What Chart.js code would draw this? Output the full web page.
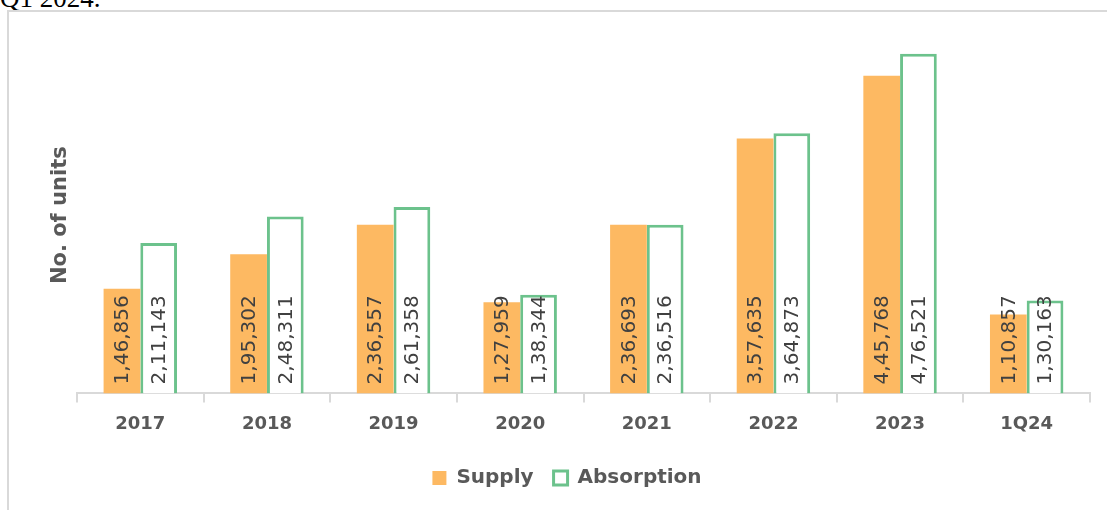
<!DOCTYPE html>
<html>
<head>
<meta charset="utf-8">
<script src="https://cdn.jsdelivr.net/npm/chart.js@4"></script>
<style>
  body { margin: 0; background: #fff; overflow: hidden; }
  .caption { position: absolute; left: 0; top: -15px; font: 27px "Liberation Serif", serif; line-height: 1; color: #000; white-space: nowrap; }
  .frame { position: absolute; left: 7px; top: 10px; width: 1200px; height: 600px; border: 2px solid #d9d9d9; box-sizing: border-box; }
  .wrap { position: absolute; left: 0; top: 0; width: 1107px; height: 510px; }
</style>
</head>
<body>
<div class="caption">Q1 2024.</div>
<div class="frame"></div>
<div class="wrap"><canvas id="grafico" width="1107" height="510"></canvas></div>
<script>
const years = ['2017', '2018', '2019', '2020', '2021', '2022', '2023', '1Q24']
const supply = [146856, 195302, 236557, 127959, 236693, 357635, 445768, 110857]
const absorption = [211143, 248311, 261358, 138344, 236516, 364873, 476521, 130163]

// indian style grouping: 1,46,856
function fmt(n) {
  let s = String(n)
  if (s.length <= 3) return s
  let last = s.slice(-3)
  let rest = s.slice(0, -3)
  rest = rest.replace(/\B(?=(\d{2})+(?!\d))/g, ',')
  return rest + ',' + last
}

const barLabels = {
  id: 'barLabels',
  afterDatasetsDraw(chart) {
    const ctx = chart.ctx
    ctx.save()
    ctx.font = '20px "DejaVu Sans"'
    ctx.fillStyle = '#404040'
    ctx.textAlign = 'left'
    ctx.textBaseline = 'middle'
    chart.data.datasets.forEach((ds, i) => {
      chart.getDatasetMeta(i).data.forEach((bar, j) => {
        ctx.save()
        ctx.translate(bar.x, bar.base - 9)
        ctx.rotate(-Math.PI / 2)
        ctx.fillText(fmt(ds.data[j]), 0, 1)
        ctx.restore()
      })
    })
    ctx.restore()
  }
}

const grafico = document.getElementById('grafico').getContext('2d')
const meuGrafico = new Chart(grafico, {
  type: 'bar',
  data: {
    labels: years,
    datasets: [{
      label: 'Supply',
      data: supply,
      backgroundColor: '#fdb962',
      borderColor: '#fdb962',
      borderWidth: 0
    }, {
      label: 'Absorption',
      data: absorption,
      backgroundColor: '#ffffff',
      borderColor: '#6cc28c',
      borderWidth: 3
    }]
  },
  options: {
    responsive: false,
    animation: false,
    categoryPercentage: 0.58,
    barPercentage: 1,
    layout: { padding: { left: 44, right: 17, top: 37, bottom: 12 } },
    plugins: {
      tooltip: { enabled: false },
      legend: {
        position: 'bottom',
        labels: {
          boxWidth: 14,
          boxHeight: 14,
          padding: 20,
          color: '#595959',
          font: { family: 'DejaVu Sans', size: 20, weight: 'bold' }
        }
      }
    },
    scales: {
      x: {
        grid: { display: true, offset: true, drawOnChartArea: false, color: '#d9d9d9', tickLength: 9, lineWidth: 2 },
        border: { color: '#d9d9d9', width: 2 },
        ticks: { color: '#595959', padding: 11, font: { family: 'DejaVu Sans', size: 18, weight: 'bold' } },
        afterFit(scale) { scale.height += 2 }
      },
      y: {
        beginAtZero: true,
        max: 500000,
        grid: { display: false },
        border: { display: false },
        ticks: { display: false },
        title: {
          display: true,
          text: 'No. of units',
          color: '#595959',
          padding: { top: 4, bottom: 0 },
          font: { family: 'DejaVu Sans', size: 21, weight: 'bold' }
        },
        afterFit(scale) { scale.width = 33 }
      }
    }
  },
  plugins: [barLabels]
})
</script>
</body>
</html>
